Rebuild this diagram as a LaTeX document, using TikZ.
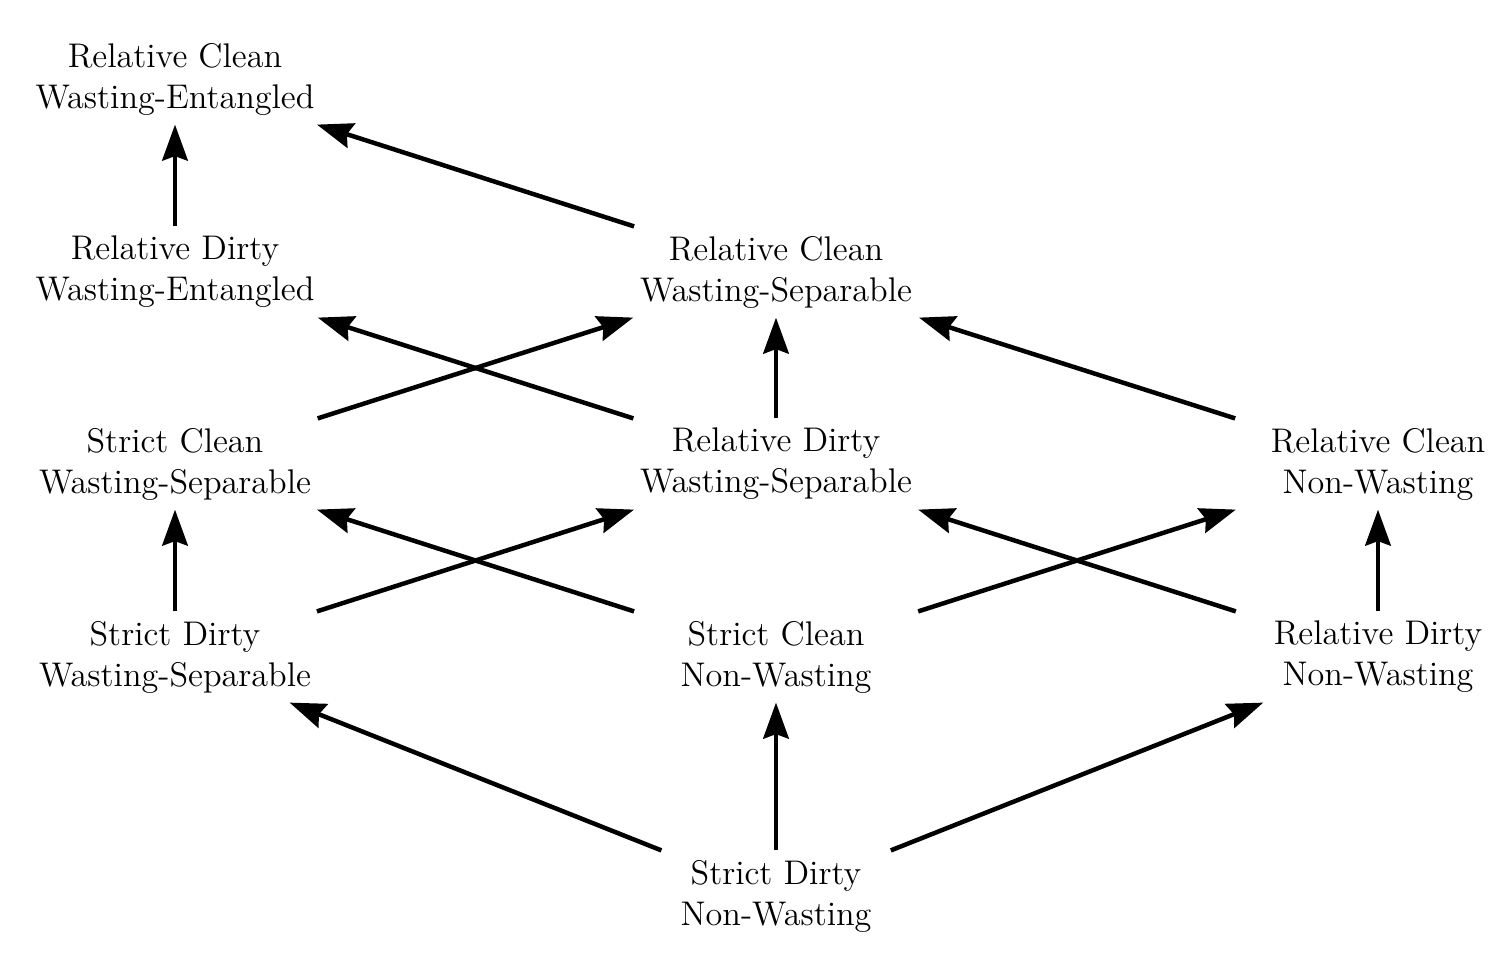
\documentclass[tikz,border=0pt]{standalone}
\usetikzlibrary{arrows.meta}
\begin{document}
\begin{tikzpicture}[x=0.33333pt,y=-0.33333pt,
  lat/.style={rectangle, inner sep=0pt, minimum width=98.7pt, minimum height=30pt, align=center, font=\fontsize{11.4pt}{13.67pt}\selectfont},
  arr/.style={line width=1.5pt, -{Stealth[length=12pt,width=8.5pt,inset=1.5pt]}}]
\useasboundingbox (0,0) rectangle (1504,956);
\node[lat] (rcwe) at (175,79) {Relative Clean\\Wasting-Entangled};
\node[lat] (rdwe) at (175,272) {Relative Dirty\\Wasting-Entangled};
\node[lat] (rcws) at (776,272) {Relative Clean\\Wasting-Separable};
\node[lat] (scws) at (175,464) {Strict Clean\\Wasting-Separable};
\node[lat] (rdws) at (776,464) {Relative Dirty\\Wasting-Separable};
\node[lat] (rcnw) at (1378,464) {Relative Clean\\Non-Wasting};
\node[lat] (sdws) at (175,657) {Strict Dirty\\Wasting-Separable};
\node[lat] (scnw) at (776,657) {Strict Clean\\Non-Wasting};
\node[lat] (rdnw) at (1378,657) {Relative Dirty\\Non-Wasting};
\node[lat] (sdnw) at (776,896) {Strict Dirty\\Non-Wasting};
\draw[arr] (rdwe) -- (rcwe);
\draw[arr] (rcws) -- (rcwe);
\draw[arr] (scws) -- (rcws);
\draw[arr] (rdws) -- (rdwe);
\draw[arr] (rdws) -- (rcws);
\draw[arr] (rcnw) -- (rcws);
\draw[arr] (sdws) -- (scws);
\draw[arr] (sdws) -- (rdws);
\draw[arr] (scnw) -- (scws);
\draw[arr] (scnw) -- (rcnw);
\draw[arr] (rdnw) -- (rdws);
\draw[arr] (rdnw) -- (rcnw);
\draw[arr] (sdnw) -- (sdws);
\draw[arr] (sdnw) -- (scnw);
\draw[arr] (sdnw) -- (rdnw);
\end{tikzpicture}
\end{document}
